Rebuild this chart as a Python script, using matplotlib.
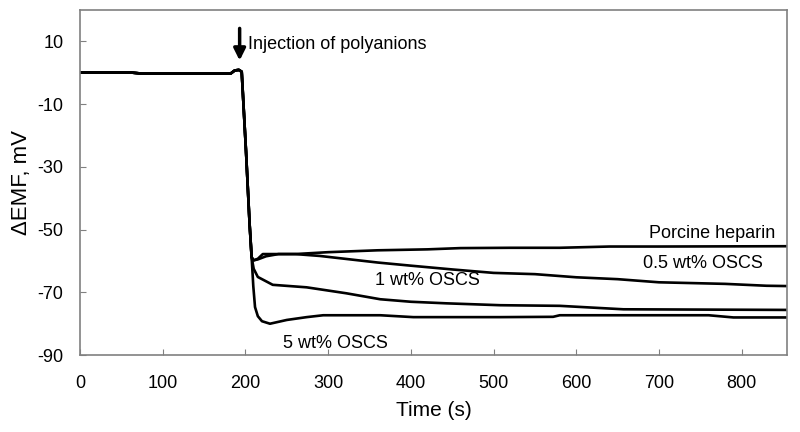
import matplotlib.pyplot as plt
import numpy as np

# common baseline before / during injection
t_base = [0, 60, 75, 182, 187, 192, 195.5, 200.7, 205]
v_base = [0.1, 0.1, -0.3, -0.3, 0.7, 0.9, 0.3, -25, -48]

# curves after injection
t_hep = [207.5, 210, 215, 221, 260, 300, 360, 420, 460, 520, 580, 640, 700, 855]
v_hep = [-58.8, -59.8, -59.3, -57.8, -57.8, -57.2, -56.6, -56.3, -55.9, -55.8, -55.8, -55.4, -55.4, -55.3]

t_05 = [207.5, 210, 215, 225, 240, 260, 290, 320, 360, 400, 450, 500, 550, 600, 650, 700, 780, 830, 855]
v_05 = [-58.8, -59.8, -59.5, -58.5, -57.8, -57.8, -58.4, -59.3, -60.5, -61.5, -62.7, -63.8, -64.2, -65.2, -65.8, -66.8, -67.3, -67.9, -68.0]

t_1 = [207.5, 210, 215, 233, 274, 322, 363, 400, 443, 508, 580, 657, 855]
v_1 = [-58.8, -62.5, -65.1, -67.6, -68.4, -70.3, -72.2, -73.0, -73.5, -74.1, -74.3, -75.4, -75.6]

t_5 = [207.5, 209.5, 211.6, 215, 220, 229.7, 250, 274, 294, 363, 403, 508, 572, 580, 760, 790, 855]
v_5 = [-58.8, -68, -74.7, -77.6, -79.2, -80.0, -78.8, -77.9, -77.3, -77.3, -77.9, -77.9, -77.8, -77.3, -77.3, -78, -78]

curves = [(t_hep, v_hep), (t_05, v_05), (t_1, v_1), (t_5, v_5)]

plt.rcParams['font.family'] = ['Liberation Sans', 'DejaVu Sans']
plt.rcParams['axes.unicode_minus'] = False

fig = plt.figure(figsize=(8, 4.32), dpi=100)
ax = fig.add_axes([0.1, 0.178, 0.884, 0.799])

for t, v in curves:
    ax.plot(t_base + t, v_base + v, color='black', lw=1.9, solid_joinstyle='round')

ax.set_xlim(0, 855)
ax.set_ylim(-90, 20)
ax.set_xticks(np.arange(0, 801, 100))
ax.set_yticks(np.arange(-90, 11, 20))
ax.tick_params(direction='in', length=4, color='#808080', labelsize=13)
ax.tick_params(axis='x', pad=14)
ax.tick_params(axis='y', pad=12)
for s in ax.spines.values():
    s.set_color('#808080')
    s.set_linewidth(1.2)

ax.set_xlabel('Time (s)', fontsize=15, labelpad=7)
ax.set_ylabel('\u0394EMF, mV', fontsize=16, labelpad=4)

ax.annotate('', xy=(193, 3), xytext=(193, 15),
            arrowprops=dict(arrowstyle='-|>,head_width=0.35,head_length=0.7', color='black', lw=2.5))
ax.text(203, 9, 'Injection of polyanions', fontsize=13, va='center')

ax.text(840, -51.2, 'Porcine heparin', fontsize=13, ha='right', va='center')
ax.text(825, -60.8, '0.5 wt% OSCS', fontsize=13, ha='right', va='center')
ax.text(357, -66.2, '1 wt% OSCS', fontsize=13, ha='left', va='center')
ax.text(245, -86.2, '5 wt% OSCS', fontsize=13, ha='left', va='center')

fig.savefig('out.png', dpi=100)
